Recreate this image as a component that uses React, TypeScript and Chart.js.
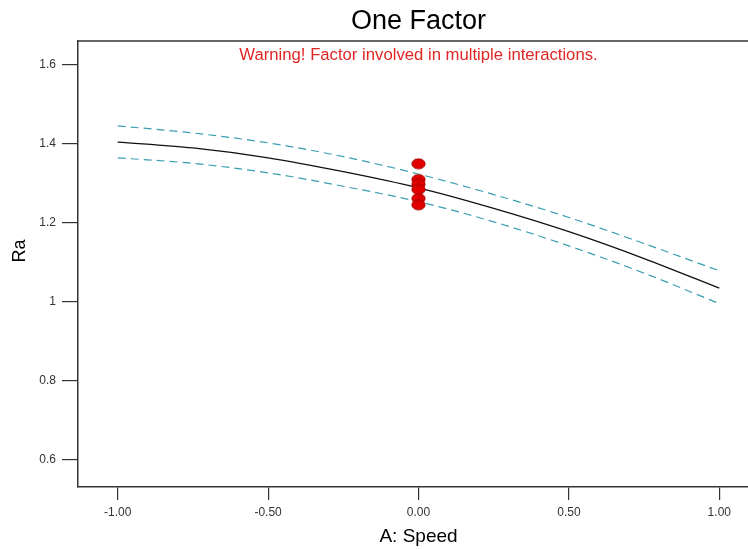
import { useEffect, useRef } from "react";
import { Chart, registerables } from "chart.js";

Chart.register(...registerables);

// Coded factor levels of A: Speed where the model curve is traced
const speedLevels = [-1, -0.75, -0.5, -0.25, 0, 0.25, 0.5, 0.75, 1];
// Predicted Ra and its 95% confidence band
const raPredicted = [1.405, 1.39, 1.365, 1.33, 1.289, 1.237, 1.178, 1.11, 1.035];
const raUpper = [1.446, 1.428, 1.403, 1.368, 1.324, 1.272, 1.214, 1.148, 1.079];
const raLower = [1.365, 1.351, 1.327, 1.293, 1.254, 1.203, 1.142, 1.073, 0.996];
// Observed design points (centre runs)
const runSpeed = [0, 0, 0, 0, 0, 0];
const runRa = [1.35, 1.31, 1.298, 1.285, 1.262, 1.246];
// Axis ticks
const xTicks = [-1, -0.5, 0, 0.5, 1];
const yTicks = [0.6, 0.8, 1.0, 1.2, 1.4, 1.6];

const FONT = '"Liberation Sans", Arial, sans-serif';

function makeDot(): HTMLCanvasElement {
  const c = document.createElement("canvas");
  c.width = 15;
  c.height = 12;
  const g = c.getContext("2d")!;
  g.beginPath();
  g.ellipse(7.5, 6, 6.6, 5, 0, 0, Math.PI * 2);
  g.fillStyle = "#e00000";
  g.fill();
  g.lineWidth = 1;
  g.strokeStyle = "#a80000";
  g.stroke();
  return c;
}

const textPlugin = {
  id: "factorText",
  beforeDatasetsDraw(chart: any) {
    const { ctx, chartArea } = chart;
    ctx.save();
    ctx.strokeStyle = "#333";
    ctx.lineWidth = 1.5;
    ctx.beginPath();
    ctx.moveTo(chartArea.left, chartArea.top);
    ctx.lineTo(chartArea.right, chartArea.top);
    ctx.stroke();
    ctx.restore();
  },
  afterDraw(chart: any) {
    const { ctx, chartArea } = chart;
    const cx = chart.scales.x.getPixelForValue(0);
    ctx.save();
    ctx.textAlign = "center";
    ctx.textBaseline = "middle";
    ctx.fillStyle = "#000";
    ctx.font = `27px ${FONT}`;
    ctx.fillText("One Factor", cx, 22);
    ctx.fillStyle = "#e02525";
    ctx.font = `16.7px ${FONT}`;
    ctx.fillText("Warning! Factor involved in multiple interactions.", cx, chartArea.top + 14);
    ctx.fillStyle = "#000";
    ctx.font = `19px ${FONT}`;
    ctx.fillText("A: Speed", cx, 537);
    ctx.translate(20, 251);
    ctx.rotate(-Math.PI / 2);
    ctx.font = `18px ${FONT}`;
    ctx.fillText("Ra", 0, 0);
    ctx.restore();
  },
};

export default function App() {
  const ref = useRef<HTMLCanvasElement | null>(null);

  useEffect(() => {
    if (!ref.current) return;
    const dot = makeDot();
    const curve = (ys: number[]) => speedLevels.map((x, i) => ({ x, y: ys[i] }));
    const chart = new Chart(ref.current, {
      type: "scatter",
      data: {
        datasets: [
          {
            label: "Design points",
            data: runSpeed.map((x, i) => ({ x, y: runRa[i] })),
            pointStyle: dot as any,
            pointRadius: 6,
            showLine: false,
          },
          {
            label: "Predicted",
            data: curve(raPredicted),
            showLine: true,
            borderColor: "#111",
            borderWidth: 1.3,
            pointRadius: 0,
            cubicInterpolationMode: "monotone",
          },
          {
            label: "Upper 95% CI",
            data: curve(raUpper),
            showLine: true,
            borderColor: "#3a9eb0",
            borderWidth: 1.2,
            borderDash: [8, 5],
            pointRadius: 0,
            cubicInterpolationMode: "monotone",
          },
          {
            label: "Lower 95% CI",
            data: curve(raLower),
            showLine: true,
            borderColor: "#3a9eb0",
            borderWidth: 1.2,
            borderDash: [8, 5],
            pointRadius: 0,
            cubicInterpolationMode: "monotone",
          },
        ],
      },
      options: {
        animation: false,
        responsive: false,
        devicePixelRatio: 1,
        layout: { padding: { top: 41, left: 0, right: 0, bottom: 0 } },
        plugins: {
          legend: { display: false },
          tooltip: { enabled: false },
          title: { display: false },
        },
        scales: {
          x: {
            type: "linear",
            min: -1.132,
            max: 1.132,
            afterBuildTicks: (s: any) => {
              s.ticks = xTicks.map((value) => ({ value }));
            },
            afterFit: (s: any) => {
              s.height = 62;
            },
            grid: {
              drawOnChartArea: false,
              drawTicks: true,
              tickLength: 13,
              color: "#333",
              lineWidth: 1.2,
            },
            border: { display: true, color: "#333", width: 1.5 },
            ticks: {
              color: "#333",
              font: { family: FONT, size: 12 },
              padding: 5,
              maxRotation: 0,
              autoSkip: false,
              callback: (v: any) => Number(v).toFixed(2),
            },
          },
          y: {
            type: "linear",
            min: 0.5316,
            max: 1.6608,
            afterBuildTicks: (s: any) => {
              s.ticks = yTicks.map((value) => ({ value }));
            },
            afterFit: (s: any) => {
              s.width = 78;
            },
            grid: {
              drawOnChartArea: false,
              drawTicks: true,
              tickLength: 16,
              color: "#333",
              lineWidth: 1.2,
            },
            border: { display: true, color: "#333", width: 1.5 },
            ticks: {
              color: "#333",
              font: { family: FONT, size: 12 },
              padding: 6,
              autoSkip: false,
              callback: (v: any) => String(Number(Number(v).toFixed(1))),
            },
          },
        },
      },
      plugins: [textPlugin],
    });
    return () => chart.destroy();
  }, []);

  return (
    <div
      style={{
        position: "fixed",
        left: 0,
        top: 0,
        width: 748,
        height: 549,
        overflow: "hidden",
        background: "#fff",
      }}
    >
      <canvas ref={ref} width={766} height={549} style={{ display: "block" }} />
    </div>
  );
}
